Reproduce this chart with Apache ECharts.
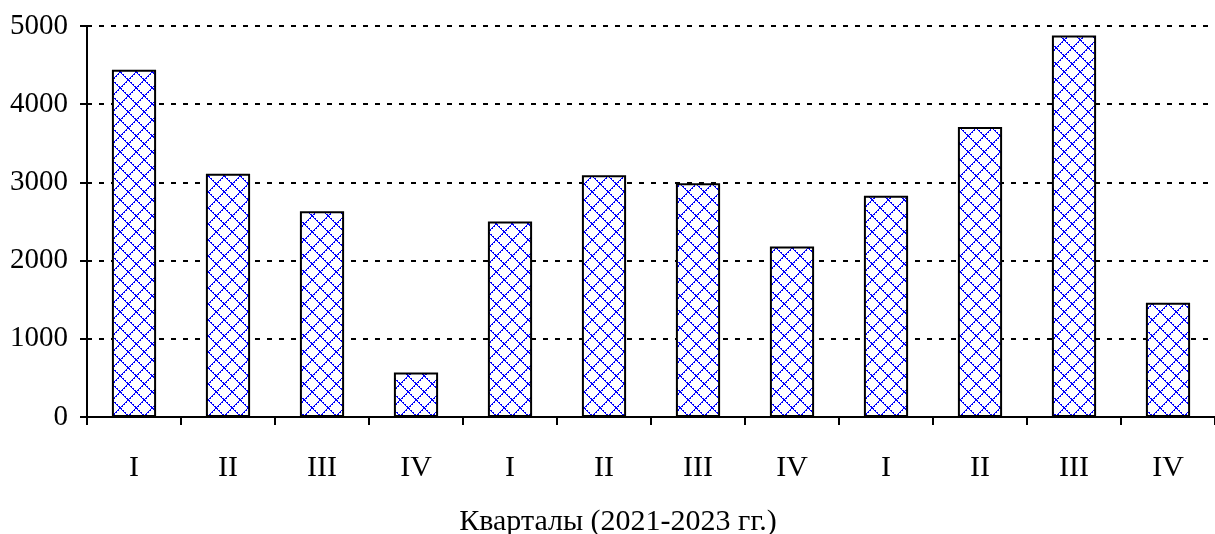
<!DOCTYPE html>
<html>
<head>
<meta charset="utf-8">
<script src="https://cdn.jsdelivr.net/npm/echarts@6/dist/echarts.min.js"></script>
<style>
  html, body { margin: 0; padding: 0; background: #fff; }
  #chart { width: 1215px; height: 534px; }
</style>
</head>
<body>
<div id="chart"></div>
<script>
// квартальные данные 2021-2023
const quarters = ['I', 'II', 'III', 'IV', 'I', 'II', 'III', 'IV', 'I', 'II', 'III', 'IV'];
const values = [4440, 3110, 2630, 570, 2500, 3090, 2990, 2180, 2830, 3710, 4880, 1460];
const yTicks = [0, 1000, 2000, 3000, 4000, 5000];

// штриховка "ромбиками" как в Excel
function makeHatch() {
  const c = document.createElement('canvas');
  c.width = 16;
  c.height = 16;
  const ctx = c.getContext('2d');
  ctx.fillStyle = '#fff';
  ctx.fillRect(0, 0, 16, 16);
  ctx.fillStyle = '#0000ff';
  for (let i = 0; i < 16; i++) {
    ctx.fillRect(i, i, 1, 1);
    ctx.fillRect(15 - i, i, 1, 1);
    if (i % 2 === 0) {
      ctx.fillRect((i + 1) % 16, i, 1, 1);
      ctx.fillRect((16 - i) % 16, i, 1, 1);
    }
  }
  return c;
}

const chart = echarts.init(document.getElementById('chart'));
const font = 'Liberation Serif';

chart.setOption({
  animation: false,
  grid: { left: 87, right: 0, top: 26, bottom: 117, outerBoundsMode: 'none' },
  xAxis: {
    type: 'category',
    data: quarters,
    name: 'Кварталы (2021-2023 гг.)',
    nameLocation: 'middle',
    nameGap: 90,
    // подпись в оригинале чуть левее центра области
    nameTextStyle: { fontFamily: font, fontSize: 30, color: '#000', padding: [0, 66, 0, 0] },
    axisLine: { lineStyle: { color: '#000', width: 2 } },
    axisTick: { show: true, length: 8, lineStyle: { color: '#000', width: 2 } },
    axisLabel: { fontFamily: font, fontSize: 30, color: '#000', margin: 36 },
  },
  yAxis: {
    type: 'value',
    min: yTicks[0],
    max: yTicks[yTicks.length - 1],
    interval: 1000,
    axisLine: { show: true, lineStyle: { color: '#000', width: 2 } },
    axisTick: { show: true, length: 7, lineStyle: { color: '#000', width: 2 } },
    axisLabel: {
      fontFamily: font,
      fontSize: 29,
      color: '#000',
      margin: 19,
      formatter: (v) => String(v),
    },
    splitLine: { lineStyle: { color: '#000', width: 2, type: [5, 7] } },
  },
  series: [
    {
      type: 'bar',
      data: values,
      barWidth: '47%',
      itemStyle: {
        color: { image: makeHatch(), repeat: 'repeat' },
        borderColor: '#000',
        borderWidth: 2,
      },
    },
  ],
});
</script>
</body>
</html>
